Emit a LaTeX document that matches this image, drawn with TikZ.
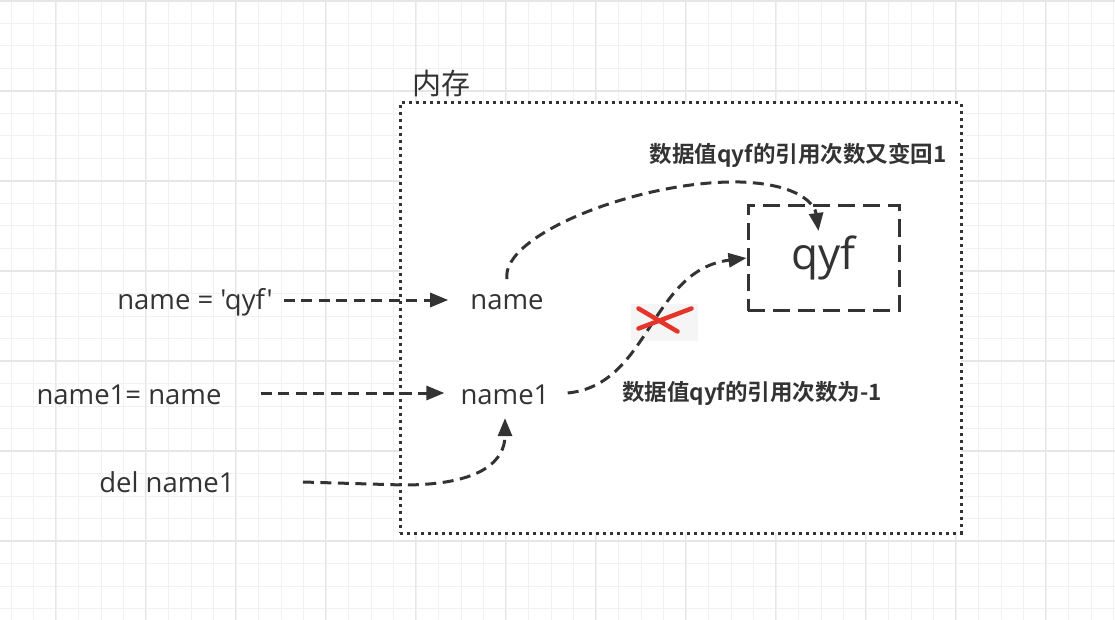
\documentclass[tikz,border=0pt]{standalone}
\usepackage{fontspec}
\setmainfont{Open Sans}[Ligatures=TeXOff]
\newfontfamily\cjk[BoldFont={Noto Sans CJK SC Bold}]{Noto Sans CJK SC}
\usetikzlibrary{arrows.meta,positioning}
\definecolor{ink}{HTML}{333333}
\definecolor{gridminor}{HTML}{F1F1F1}
\definecolor{gridmajor}{HTML}{E6E6E6}
\definecolor{crossred}{HTML}{E5352B}

\begin{document}
\begin{tikzpicture}[
        x=1pt, y=-1pt,
        font=\fontsize{27.5}{32}\selectfont,
        every node/.style={text=ink},
        code/.style={inner sep=0pt},
        note/.style={font=\cjk\bfseries\fontsize{22.5}{26}\selectfont, inner sep=0pt},
        arrow/.style={-{Triangle[length=18pt,width=14pt]}, draw=ink,
            line width=3pt, dash pattern=on 11pt off 6.5pt},
        valbox/.style={draw=ink, line width=3pt, dash pattern=on 17pt off 8pt,
            minimum width=151pt, minimum height=105pt},
        membox/.style={draw=ink, fill=white, line width=3pt,
            dash pattern=on 3pt off 4pt, minimum width=561pt, minimum height=430pt}
    ]
    \useasboundingbox (0,0) rectangle (1115,620);
    \fill[white] (0,0) rectangle (1115,620);
    % background grid
    \foreach \k in {0,...,27}
        \draw[gridminor, line width=1pt] (0,{1+22.5*\k}) -- (1115,{1+22.5*\k});
    \foreach \k in {0,...,49}
        \draw[gridminor, line width=1pt] ({11+22.5*\k},0) -- ({11+22.5*\k},620);
    \foreach \k in {0,...,6}
        \draw[gridmajor, line width=1.2pt] (0,{1+90*\k}) -- (1115,{1+90*\k});
    \foreach \k in {0,...,12}
        \draw[gridmajor, line width=1.2pt] ({55.7+90*\k},0) -- ({55.7+90*\k},620);

    \node[membox] (mem) at (680.5,318) {};
    \node[font=\cjk\fontsize{29}{32}\selectfont, anchor=south west, inner sep=0pt]
        (memlabel) at (412,97) {内存};

    \node[code] (assign) at (195,302) {name = 'qyf'};
    \node[code] (alias) at (129,395) {name1= name};
    \node[code] (delstmt) at (167,482) {del name1};
    \node[code] (nm) at (507,302) {name};
    \node[code] (nm1) at (505,395) {name1};
    \node[valbox, font=\fontsize{44}{50}\selectfont] (val) at (823.5,258) {qyf};
    \node[note] (note1) at (798,155) {数据值qyf的引用次数又变回1};
    \node[note] (note2) at (752,393) {数据值qyf的引用次数为-1};
    \node[fill=gray!8, minimum width=67pt, minimum height=37pt, inner sep=0pt]
        (cross) at (664.5,322.5) {};

    \draw[arrow] ([xshift=11pt,yshift=2pt]assign.east) -- ([xshift=-22pt,yshift=2pt]nm.west);
    \draw[arrow] ([xshift=39pt,yshift=2pt]alias.east) -- ([xshift=-16pt,yshift=2pt]nm1.west);
    \draw[arrow] ([xshift=68pt]delstmt.east) -- ++(100,3)
        .. controls +(80,0) and (505,460) .. ([yshift=-13pt]nm1.south);
    \draw[arrow] ([yshift=15pt]nm.north) .. controls (500,235) and (640,180) .. (740,182)
        .. controls (800,184) and (815,205) .. ([xshift=-5pt,yshift=-27pt]val.north);
    \draw[arrow] ([xshift=18pt,yshift=2pt]nm1.east) .. controls (650,385) and (650,270) .. (val.west);

    \draw[crossred, line width=4.5pt, line cap=round]
        ([shift={(-26,-14)}]cross.center) -- ([shift={(13,9)}]cross.center);
    \draw[crossred, line width=4.5pt, line cap=round]
        ([shift={(27,-14)}]cross.center) -- ([shift={(-26,6)}]cross.center);
\end{tikzpicture}
\end{document}
